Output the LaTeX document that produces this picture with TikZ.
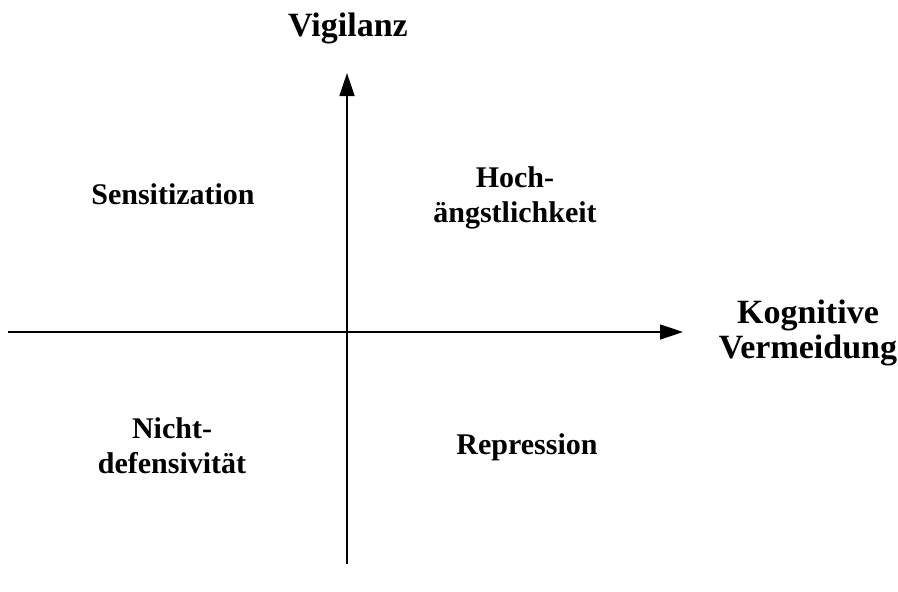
\documentclass[tikz,border=0pt]{standalone}
\usepackage{fontspec}
\setmainfont{Liberation Serif}
\usetikzlibrary{arrows.meta}
\begin{document}
\begin{tikzpicture}[x=1pt,y=-1pt,
  axis/.style={line width=1.8pt,-{Triangle[length=23pt,width=15pt]}},
  axislabel/.style={font=\bfseries\fontsize{34}{35}\selectfont,inner sep=0pt,align=center},
  quadlabel/.style={font=\bfseries\fontsize{30}{35}\selectfont,inner sep=0pt,align=center}]
  \useasboundingbox (0,0) rectangle (898,592);
  % axis end points
  \coordinate (ybot) at (347,564);
  \coordinate (ytop) at (347,73);
  \coordinate (xleft) at (8,332);
  \coordinate (xright) at (683,332);
  \draw[axis] (ybot) -- (ytop);
  \draw[axis] (xleft) -- (xright);
  % axis titles
  \node[axislabel,anchor=base] (vig) at (348,36) {Vigilanz};
  \node[axislabel,anchor=center] (kog) at (808,333) {Kognitive\\Vermeidung};
  % quadrant labels
  \node[quadlabel,anchor=base] (sens) at (173,204) {Sensitization};
  \node[quadlabel,anchor=center] (hoch) at (515,198) {Hoch-\\ängstlichkeit};
  \node[quadlabel,anchor=center] (nicht) at (172,446) {Nicht-\\defensivität};
  \node[quadlabel,anchor=base] (rep) at (527,454) {Repression};
\end{tikzpicture}
\end{document}
